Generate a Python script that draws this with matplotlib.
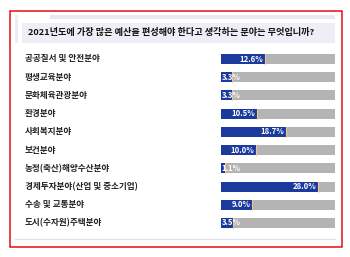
import matplotlib
matplotlib.use("Agg")
import matplotlib.pyplot as plt
from matplotlib.patches import Rectangle

plt.rcParams['font.family'] = ['Noto Sans CJK KR', 'DejaVu Sans']

title = "2021년도에 가장 많은 예산을 편성해야 한다고 생각하는 분야는 무엇입니까?"
categories = ["공공질서 및 안전분야", "평생교육분야", "문화체육관광분야", "환경분야",
              "사회복지분야", "보건분야", "농정(축산)해양수산분야",
              "경제투자분야(산업 및 중소기업)", "수송 및 교통분야", "도시(수자원)주택분야"]
values = [12.6, 3.3, 3.3, 10.5, 18.7, 10.0, 1.1, 28.0, 9.0, 3.5]
value_labels = ["12.6%", "3.3%", "3.3%", "10.5%", "18.7%", "10.0%", "1.1%", "28.0%", "9.0%", "3.5%"]
axis_max = 33.0

W, H = 350, 257
fig = plt.figure(figsize=(W / 100, H / 100), dpi=100)
fig.patch.set_facecolor("white")

bg = fig.add_axes([0, 0, 1, 1])
bg.set_xlim(0, W)
bg.set_ylim(H, 0)
bg.axis("off")

# red frame
bg.add_patch(Rectangle((9.5, 10.5), 332, 236, fill=False, edgecolor="#e01010", linewidth=1.1))
# top strip
bg.add_patch(Rectangle((50, 15), 285, 4, facecolor="#e8e8f2", edgecolor="none"))
# left strip
bg.add_patch(Rectangle((15, 15), 3, 28, facecolor="#ececf4", edgecolor="none"))
# title box
bg.add_patch(Rectangle((22, 23), 313, 20, facecolor="#eeeef6", edgecolor="none"))
bg.text(28, 32.5, title, fontsize=6.6, fontweight="bold", color="#111111",
        ha="left", va="center")
# bottom line
bg.plot([15, 335], [238.5, 238.5], color="#e2e2ea", linewidth=1.0)

ax = fig.add_axes([221 / W, (H - 232.1) / H, 114 / W, 182.2 / H])
ax.set_xlim(0, axis_max)
ax.set_ylim(len(values) - 0.5, -0.5)
ax.axis("off")

ypos = list(range(len(values)))
bh = 0.55
ax.barh(ypos, [axis_max] * len(values), height=bh, color="#b4b4b4", edgecolor="none")
ax.barh(ypos, values, height=bh, color="#1b3a9e", edgecolor="none")
for y, v, lab, cat in zip(ypos, values, value_labels, categories):
    ax.plot([v, v], [y - bh / 2, y + bh / 2], color="#f2c98a", linewidth=0.8)
    if v < 6:
        ax.text(0.15, y, lab, fontsize=5.6, fontweight="bold", color="white",
                ha="left", va="center")
    else:
        ax.text(v - 0.5, y, lab, fontsize=5.6, fontweight="bold", color="white",
                ha="right", va="center")
    bg.text(25, 59 + y * 18.22, cat, fontsize=6.2, fontweight="bold", color="#222222",
            ha="left", va="center")

fig.savefig("out.png", dpi=100, facecolor="white")
